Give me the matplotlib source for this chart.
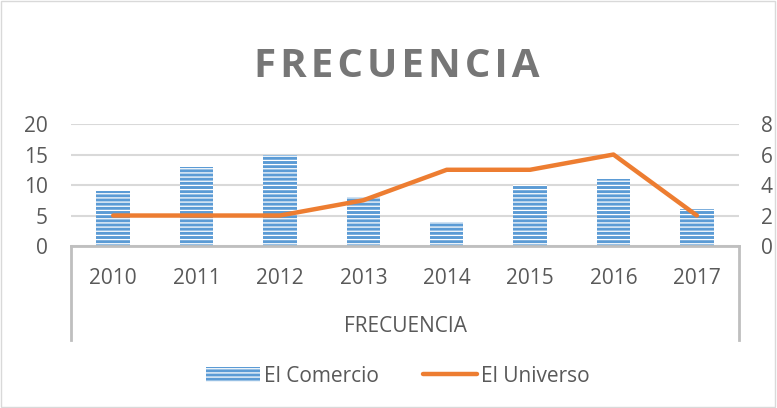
import matplotlib.pyplot as plt
from matplotlib.patches import Rectangle, Patch
from matplotlib.lines import Line2D
import numpy as np

# data
years = ["2010", "2011", "2012", "2013", "2014", "2015", "2016", "2017"]
el_comercio = [9, 13, 15, 8, 4, 10, 11, 6]
el_universo = [2, 2, 2, 3, 5, 5, 6, 2]

blue = "#5B9BD5"
orange = "#ED7D31"
txt = "#595959"
grid = "#D9D9D9"

plt.rcParams['font.family'] = ['Open Sans', 'DejaVu Sans']
plt.rcParams['hatch.linewidth'] = 0.9

fig = plt.figure(figsize=(7.77, 4.08), dpi=100)
ax = fig.add_axes([0.092, 0.397, 0.8585, 0.299])
ax2 = ax.twinx()

x = np.arange(len(years))
ax.bar(x, el_comercio, width=0.4, color=blue, edgecolor="white", linewidth=0,
       hatch="----", zorder=2)
ax2.plot(x, el_universo, color=orange, linewidth=3.2, solid_capstyle="round",
         solid_joinstyle="round", zorder=3)

ax.set_xlim(-0.5, len(years) - 0.5)
ax.set_ylim(0, 20)
ax.set_yticks([0, 5, 10, 15, 20])
ax2.set_ylim(0, 8)
ax2.set_yticks([0, 2, 4, 6, 8])

ax.yaxis.grid(True, color=grid, linewidth=1.5, zorder=0)
ax.set_axisbelow(True)
for a in (ax, ax2):
    for s in a.spines.values():
        s.set_visible(False)
ax.spines['bottom'].set_visible(True)
ax.spines['bottom'].set_color("#BFBFBF")
ax.spines['bottom'].set_linewidth(2)

ax.set_xticks(x)
ax.set_xticklabels(years)
ax.tick_params(axis='x', length=0, pad=16, labelsize=15, labelcolor=txt)
ax.tick_params(axis='y', length=0, pad=17, labelsize=15, labelcolor=txt)
ax2.tick_params(axis='y', length=0, pad=16, labelsize=15, labelcolor=txt)

ax.set_xlabel("FRECUENCIA", fontsize=15, color=txt, labelpad=19)

# multi-level category frame
for xv in (0, 1):
    ax.add_line(Line2D([xv, xv], [0, -0.77], transform=ax.transAxes,
                       color="#BFBFBF", linewidth=2, clip_on=False))

fig.text(0.511, 0.838, "\u200a".join("FRECUENCIA"), ha="center", va="center",
         fontsize=29, fontweight="bold", color="#767676")

handles = [Patch(facecolor=blue, edgecolor="white", linewidth=0, hatch="----"),
           Line2D([], [], color=orange, linewidth=3.2, solid_capstyle="round")]
fig.legend(handles, ["El Comercio", "El Universo"], loc="center",
           bbox_to_anchor=(0.512, 0.078), ncol=2, frameon=False, fontsize=15,
           labelcolor=txt, handlelength=2.6, handletextpad=0.2, columnspacing=2.1)

fig.patches.append(Rectangle((0.001, 0.002), 0.997, 0.996, transform=fig.transFigure,
                             fill=False, edgecolor=grid, linewidth=1))

fig.savefig("out.png", dpi=100)
